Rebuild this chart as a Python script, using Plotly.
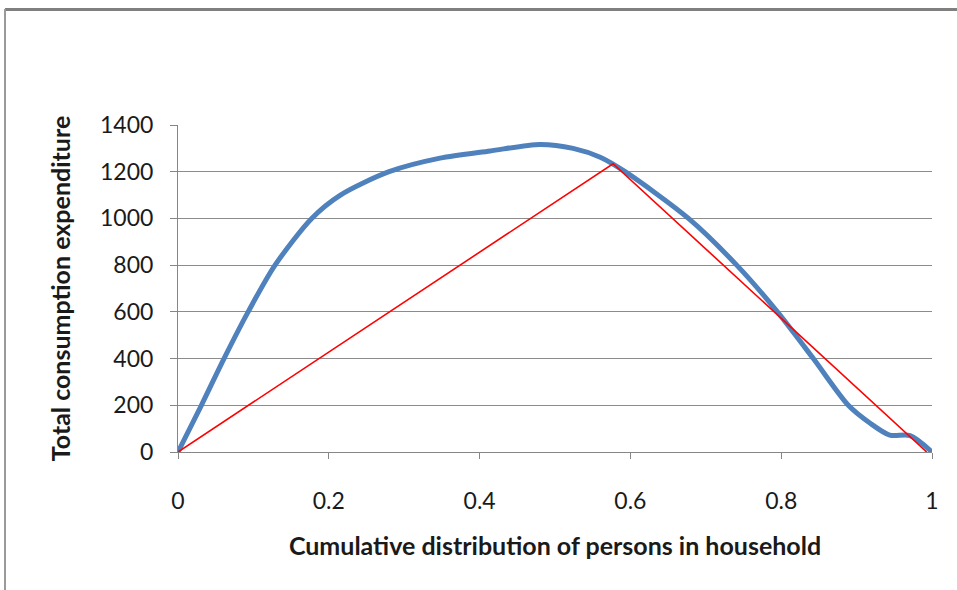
import plotly.graph_objects as go

# Blue curve
curve_x = [0, 0.031, 0.061, 0.093, 0.1287, 0.1773, 0.2149, 0.28, 0.3475, 0.414, 0.48,
           0.524, 0.56, 0.593, 0.677, 0.741, 0.795, 0.8426, 0.889, 0.918, 0.944, 0.971, 1.0]
curve_y = [0, 200, 400, 600, 800, 1000, 1099, 1200, 1258, 1289, 1317,
           1300, 1262, 1200, 1000, 800, 600, 400, 200, 123, 72, 70, 0]

# Red triangle line
tri_x = [0, 0.577, 0.993]
tri_y = [0, 1234, 0]

x_ticks = [0, 0.2, 0.4, 0.6, 0.8, 1]
x_tick_text = ["0", "0.2", "0.4", "0.6", "0.8", "1"]
y_ticks = [0, 200, 400, 600, 800, 1000, 1200, 1400]

FONT = "Lato"

fig = go.Figure()
fig.add_trace(go.Scatter(x=curve_x, y=curve_y, mode="lines",
                         line=dict(color="#4F81BD", width=5, shape="spline", smoothing=0.8),
                         showlegend=False, hoverinfo="skip"))
fig.add_trace(go.Scatter(x=tri_x, y=tri_y, mode="lines",
                         line=dict(color="#FF0000", width=1.6),
                         showlegend=False, hoverinfo="skip"))

W, H = 957, 590
L, R, T, B = 178, 25, 125, 138
pw = W - L - R
ph = H - T - B

fig.update_layout(
    width=W, height=H,
    margin=dict(l=L, r=R, t=T, b=B, pad=0),
    paper_bgcolor="white", plot_bgcolor="white",
    font=dict(family=FONT, color="#1a1a1a", size=23),
    xaxis=dict(range=[0, 1], tickvals=x_ticks, ticktext=x_tick_text,
               showgrid=False, zeroline=False, showline=True, linecolor="#868686", linewidth=1,
               ticks="outside", ticklen=6, tickcolor="#868686", ticklabelstandoff=22,
               tickfont=dict(size=23, family=FONT),
               title=dict(text="<b>Cumulative distribution of persons in household</b>",
                          font=dict(size=25, family=FONT), standoff=24)),
    yaxis=dict(range=[0, 1400], tickvals=y_ticks,
               showgrid=True, gridcolor="#8c8c8c", gridwidth=1, zeroline=False,
               showline=True, linecolor="#868686", linewidth=1,
               ticks="outside", ticklen=7, tickcolor="#868686", ticklabelstandoff=12,
               tickfont=dict(size=23, family=FONT),
               title=dict(text="<b>Total consumption expenditure</b>",
                          font=dict(size=25, family=FONT), standoff=22)),
    shapes=[
        dict(type="line", xref="paper", yref="paper",
             x0=(5 - L) / pw, x1=(W + 5 - L) / pw, y0=(H - B - 9.5) / ph, y1=(H - B - 9.5) / ph,
             line=dict(color="#7f7f7f", width=3)),
        dict(type="line", xref="paper", yref="paper",
             x0=(5 - L) / pw, x1=(5 - L) / pw, y0=(H - B - 9) / ph, y1=(H - B - H - 5) / ph,
             line=dict(color="#9a9a9a", width=2)),
    ],
)

fig.write_html("out.html", config={"displayModeBar": False},
               post_script="document.body.style.margin='0px';document.body.style.overflow='hidden';")
